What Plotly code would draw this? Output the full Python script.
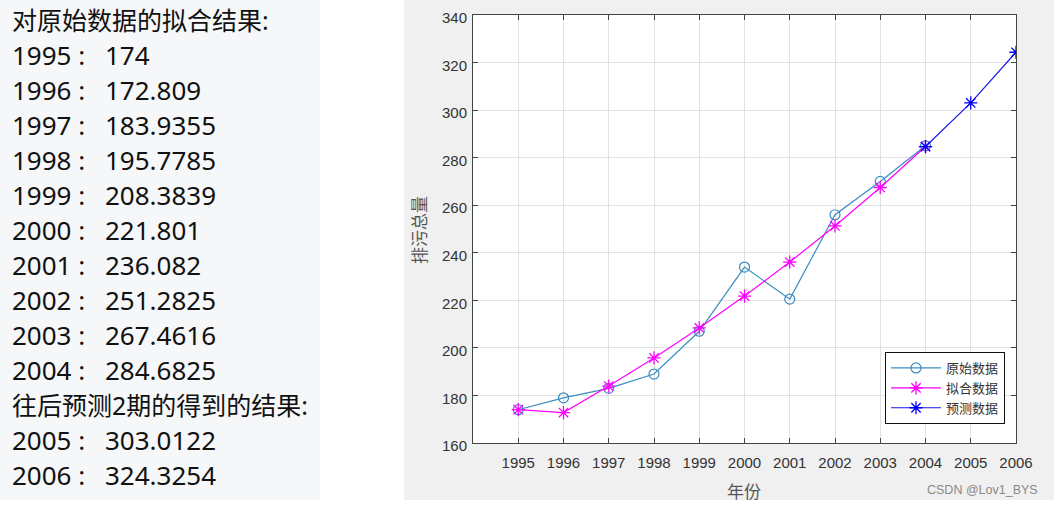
import plotly.graph_objects as go

# ---------------- data ----------------
years_orig = [1995, 1996, 1997, 1998, 1999, 2000, 2001, 2002, 2003, 2004]
orig_vals = [174, 179, 183, 189, 207, 234, 220.5, 256, 270, 285]
fit_vals = [174, 172.809, 183.9355, 195.7785, 208.3839, 221.801, 236.082, 251.2825, 267.4616, 284.6825]
years_pred = [2004, 2005, 2006]
pred_vals = [284.6825, 303.0122, 324.3254]
x_ticks = list(range(1995, 2007))
y_ticks = list(range(160, 341, 20))

W, H = 1054, 505
PL, PR, PT, PB = 473, 1016, 15, 443  # plot area in pixels


def fx(p):
    return (p - PL) / (PR - PL)


def fy(p):
    return (PB - p) / (PB - PT)


def fmt(v):
    s = "%.4f" % v
    return s.rstrip("0").rstrip(".")


fig = go.Figure()
fig.add_trace(go.Scatter(
    x=years_orig, y=orig_vals, name="原始数据", mode="lines+markers",
    line=dict(color="#3a8cc1", width=1.2),
    marker=dict(symbol="circle-open", size=10, color="#3a8cc1", line=dict(width=1.2, color="#3a8cc1")),
))
fig.add_trace(go.Scatter(
    x=years_orig, y=fit_vals, name="拟合数据", mode="lines+markers",
    line=dict(color="#ff00ff", width=1.2),
    marker=dict(symbol="asterisk-open", size=11, color="#ff00ff", line=dict(width=1.3, color="#ff00ff")),
))
fig.add_trace(go.Scatter(
    x=years_pred, y=pred_vals, name="预测数据", mode="lines+markers",
    line=dict(color="#1a1ae6", width=1.2),
    marker=dict(symbol="asterisk-open", size=11, color="#0000ff", line=dict(width=1.3, color="#0000ff")),
))

shapes = []
# left text panel
shapes.append(dict(type="rect", xref="paper", yref="paper", x0=fx(0), x1=fx(320), y0=fy(500), y1=fy(0),
                   fillcolor="#f6f7f8", line=dict(width=0), layer="below"))
# right gray figure panel, drawn around the plot area
gray = "#f0f0f0"
for (a, b, c, d) in [(404, PL, 0, 500), (PR, W, 0, 500), (PL, PR, 0, PT), (PL, PR, PB, 500)]:
    shapes.append(dict(type="rect", xref="paper", yref="paper", x0=fx(a), x1=fx(b), y0=fy(d), y1=fy(c),
                       fillcolor=gray, line=dict(width=0), layer="below"))

annotations = []
lines = [("对原始数据的拟合结果:", 25)]
lines += [("%d :\u2002 %s" % (y, fmt(v)), 26) for y, v in zip(years_orig, fit_vals)]
lines += [("往后预测2期的得到的结果:", 25)]
lines += [("%d :\u2002 %s" % (y, fmt(v)), 26) for y, v in zip(years_pred[1:], pred_vals[1:])]
for i, (t, fs) in enumerate(lines):
    annotations.append(dict(text=t, xref="paper", yref="paper", x=fx(10), y=fy(20 + 35 * i),
                            xanchor="left", yanchor="middle", showarrow=False,
                            font=dict(family="Noto Sans, Noto Sans CJK SC", size=fs, color="#111111")))

annotations.append(dict(text="排污总量", xref="paper", yref="paper", x=fx(419), y=fy(230), textangle=-90,
                        xanchor="center", yanchor="middle", showarrow=False,
                        font=dict(family="Noto Sans CJK SC", size=17, color="#555555")))
annotations.append(dict(text="年份", xref="paper", yref="paper", x=fx(744), y=fy(490),
                        xanchor="center", yanchor="middle", showarrow=False,
                        font=dict(family="Noto Sans CJK SC", size=17, color="#555555")))
annotations.append(dict(text="CSDN @Lov1_BYS", xref="paper", yref="paper", x=fx(982), y=fy(490),
                        xanchor="center", yanchor="middle", showarrow=False,
                        font=dict(family="Liberation Sans", size=12.5, color="#8a8a8a")))

axis_common = dict(showline=True, linecolor="#444444", linewidth=1, mirror="ticks",
                   ticks="inside", ticklen=5, tickcolor="#444444", automargin=False,
                   showgrid=True, gridcolor="#e2e2e2", gridwidth=1, zeroline=False,
                   tickfont=dict(family="Liberation Sans", size=15, color="#333333"))

fig.update_layout(
    width=W, height=H,
    margin=dict(l=PL, r=W - PR, t=PT, b=H - PB, pad=0, autoexpand=False),
    paper_bgcolor="white", plot_bgcolor="white",
    xaxis=dict(range=[1994, 2006], tickvals=x_ticks, ticktext=[str(v) for v in x_ticks],
               ticklabelstandoff=6, **axis_common),
    yaxis=dict(range=[160, 340], tickvals=y_ticks, ticktext=[str(v) for v in y_ticks],
               ticklabelstandoff=2, ticklabelshift=3, **axis_common),
    legend=dict(x=fx(1005), y=fy(424), xanchor="right", yanchor="bottom",
                bgcolor="white", bordercolor="#111111", borderwidth=1, itemwidth=50,
                font=dict(family="Noto Sans CJK SC", size=13, color="#333333")),
    shapes=shapes, annotations=annotations,
    showlegend=True,
)

fig.write_html(
    "out.html",
    post_script="document.body.style.margin='0';document.body.style.padding='0';"
                "document.documentElement.style.overflow='hidden';",
)
